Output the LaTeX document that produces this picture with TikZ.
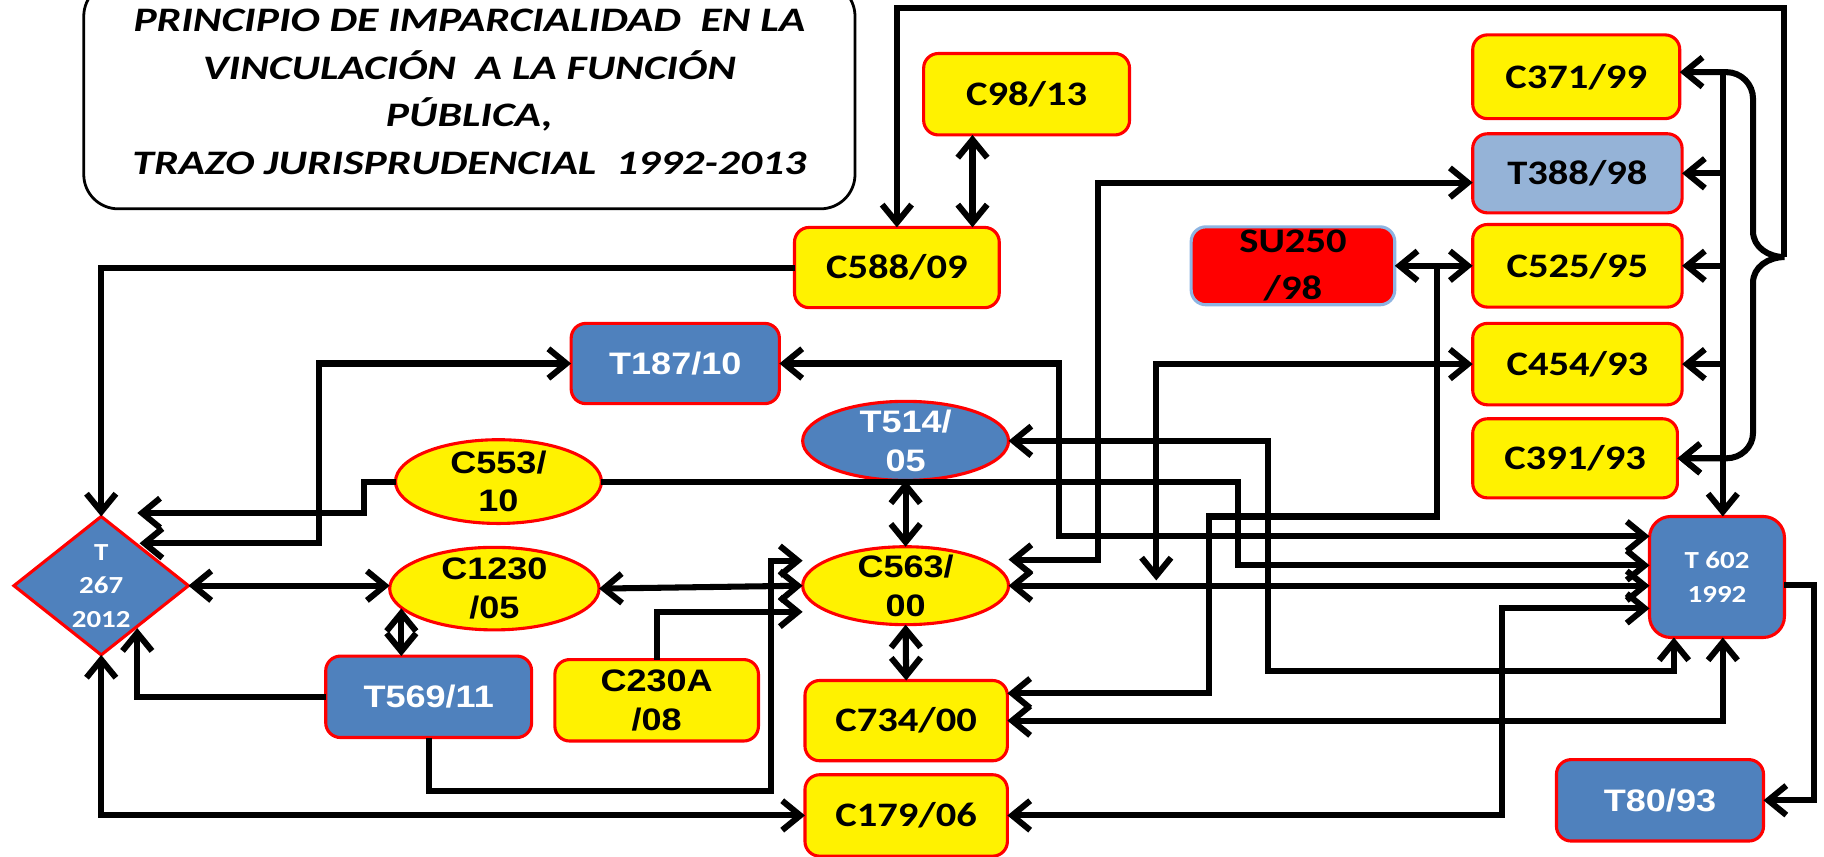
\documentclass[tikz,border=0pt]{standalone}
\usepackage{fontspec}
\setmainfont{Carlito}
\newfontfamily\calfont[FakeStretch=1.18]{Carlito}
\newfontfamily\arifont[FakeStretch=1.16]{Liberation Sans}
\newfontfamily\ttlfont[FakeStretch=1.27]{Carlito}
\usetikzlibrary{shapes.geometric,arrows.meta,calc}
\def\uS{0.7113pt}
\definecolor{ofblue}{RGB}{79,129,189}
\definecolor{ltblue}{RGB}{149,179,215}
\definecolor{suedge}{RGB}{141,180,226}
\tikzset{
  base/.style={inner sep=0pt, outer sep=0pt, line width=1.9pt, draw=red, align=center},
  rbox/.style={base, rectangle, rounded corners=9pt},
  calf/.style={font=\calfont\bfseries\fontsize{21}{27}\selectfont},
  arif/.style={font=\arifont\bfseries\fontsize{19}{23.5}\selectfont},
  smallf/.style={font=\calfont\bfseries\fontsize{15}{20.5}\selectfont},
  ybox/.style={rbox, fill=yellow, calf},
  bbox/.style={rbox, fill=ofblue, text=white, arif},
  yell/.style={base, ellipse, fill=yellow},
  bell/.style={base, ellipse, fill=ofblue},
  etxt/.style={align=center, inner sep=0pt, arif},
  sz/.style 2 args={minimum width=#1*\uS, minimum height=#2*\uS},
  conn/.style={line width=3.7pt, line join=miter},
  arr/.style={conn, -{Straight Barb[length=11pt,width=18pt]}},
  darr/.style={conn, {Straight Barb[length=11pt,width=18pt]}-{Straight Barb[length=11pt,width=18pt]}},
}
\begin{document}
\begin{tikzpicture}[x=0.7113pt, y=-0.7113pt]
\useasboundingbox[fill=white] (0,0) rectangle (1568,736);

% title
\node[draw=black, line width=1.7pt, rounded corners=21pt, sz={663}{195}, inner sep=0pt] (titlebox) at (403.5,82) {};
\node[font=\ttlfont\bfseries\itshape\fontsize{21}{29.2}\selectfont, align=center, inner sep=0pt] (title) at (403.5,79)
  {PRINCIPIO DE IMPARCIALIDAD~ EN LA\\ VINCULACIÓN~ A LA FUNCIÓN\\ PÚBLICA,\\ TRAZO JURISPRUDENCIAL~ 1992-2013};

% boxes
\node[ybox, sz={177}{70}] (c98) at (882.5,81) {C98/13};
\node[ybox, sz={176}{69}] (c588) at (771,230) {C588/09};
\node[ybox, sz={178}{72}] (c371) at (1355,66) {C371/99};
\node[rbox, fill=ltblue, calf, sz={180}{68}] (t388) at (1356,149) {T388/98};
\node[ybox, sz={180}{71}] (c525) at (1356,228.5) {C525/95};
\node[ybox, sz={180}{70}] (c454) at (1356,313) {C454/93};
\node[ybox, sz={176}{68}] (c391) at (1354,394) {C391/93};
\node[rbox, fill=red, draw=suedge, sz={175}{67}, font=\calfont\bfseries\fontsize{21}{28.5}\selectfont] (su250) at (1111.5,228.5) {SU250\\/98};
\node[bbox, sz={179}{69}] (t187) at (580.5,312.5) {T187/10};
\node[bbox, sz={177}{70}] (t569) at (368.5,599) {T569/11};
\node[rbox, fill=yellow, arif, sz={175}{70}] (c230a) at (564.5,602) {C230A\\/08};
\node[ybox, sz={174}{69}] (c734) at (779,619.5) {C734/00};
\node[ybox, sz={174}{70}] (c179) at (779,701) {C179/06};
\node[base, rectangle, rounded corners=13pt, fill=ofblue, text=white, smallf, sz={116}{104}] (t602) at (1476,496) {T 602\\1992};
\node[bbox, sz={178}{70}] (t80) at (1427,688) {T80/93};

% ellipses
\node[bell, sz={177}{68}] (t514) at (778.5,379) {};
\node[etxt, text=white] (t514t) at (t514) {T514/\\05};
\node[yell, sz={177}{72}] (c553) at (428.5,414) {};
\node[etxt] (c553t) at (c553) {C553/\\10};
\node[yell, sz={180}{71}] (c1230) at (425,506) {};
\node[etxt] (c1230t) at (c1230) {C1230\\/05};
\node[yell, sz={177}{67}] (c563) at (778.5,503.5) {};
\node[etxt] (c563t) at (c563) {C563/\\00};

% diamond
\node[base, diamond, fill=ofblue, sz={150}{119}] (t267) at (87,503.5) {};
\node[text=white, align=center, inner sep=0pt, smallf] (t267t) at (t267) {T\\267\\2012};

% helper coordinates
\coordinate (colx) at (1481,0);
\coordinate (j1) at ($(su250.east)!0.54!(c525.west)$);
\coordinate (btip) at (1534,221);

% right column and brace
\draw[arr] (btip) -- (1534,7) -| (c588.north);
\draw[darr] (c371.east |- 0,62) -- (1484,62) to[out=0,in=90] (1507,85) -- (1507,199)
  to[out=-90,in=180] (btip) to[out=180,in=90] (1507,243) -- (1507,372)
  to[out=-90,in=0] (1484,394) -- (c391.east |- 0,394);
\draw[arr] (colx |- 0,62) -- (colx |- t602.north);
\foreach \n in {t388,c525,c454,c391} \draw[arr] (colx |- \n.east) -- (\n.east);

% top
\draw[darr] (c98.south -| 836,0) -- (c588.north -| 836,0);

% left side
\draw[arr] (c588.west) -| (t267.north);
\draw[darr] ($(t267.north)+(33,23)$) -- (274,467) |- (t187.west);
\draw[arr] (c553.west) -- (313,414) |- ($(t267.north)+(31,-3)$);
\draw[darr] (t267.east) -- (c1230.west |- t267.east);
\draw[darr] ($(c1230.center)+(-80,17)$) -- (t569.north -| 345,0);
\draw[arr] (t569.west) -| ($(t267.south)+(31,-23)$);
\draw[darr] (t267.south) |- (c179.west);
\draw[arr] (t569.south) |- (663,680) |- (c563.west |- 0,482);
\draw[arr] (c230a.north) |- (c563.west |- 0,526);
\draw[darr] (c1230.east) -- (c563.west);

% middle
\draw[arr] (c553.east) -| (1064,486) -- (t602.west |- 0,486);
\draw[darr] (t514.south) -- (c563.north);
\draw[darr] (c563.south) -- (c734.north);
\draw[darr] (t187.east) -| (910,461) -- (t602.west |- 0,461);
\draw[darr] (c563.east |- 0,481) -| (944,157) -- (t388.west |- 0,157);
\draw[darr] (c454.west) -| (994,499);
\draw[darr] (su250.east) -- (c525.west);
\draw[arr] (j1) |- (1039,444) |- (c734.east |- 0,596);
\draw[darr] (t514.east) -| (1090,577) -| ($(t602.south)+(-37,0)$);
\draw[darr] (c563.east) -- (t602.west |- c563.east);
\draw[darr] (c179.east) -| (1291,523) -- (t602.west |- 0,523);
\draw[darr] (c734.east) -| ($(t602.south)+(5,0)$);
\draw[arr] ($(t602.east)+(0,7)$) -- ++(25,0) |- (t80.east);
\end{tikzpicture}
\end{document}
